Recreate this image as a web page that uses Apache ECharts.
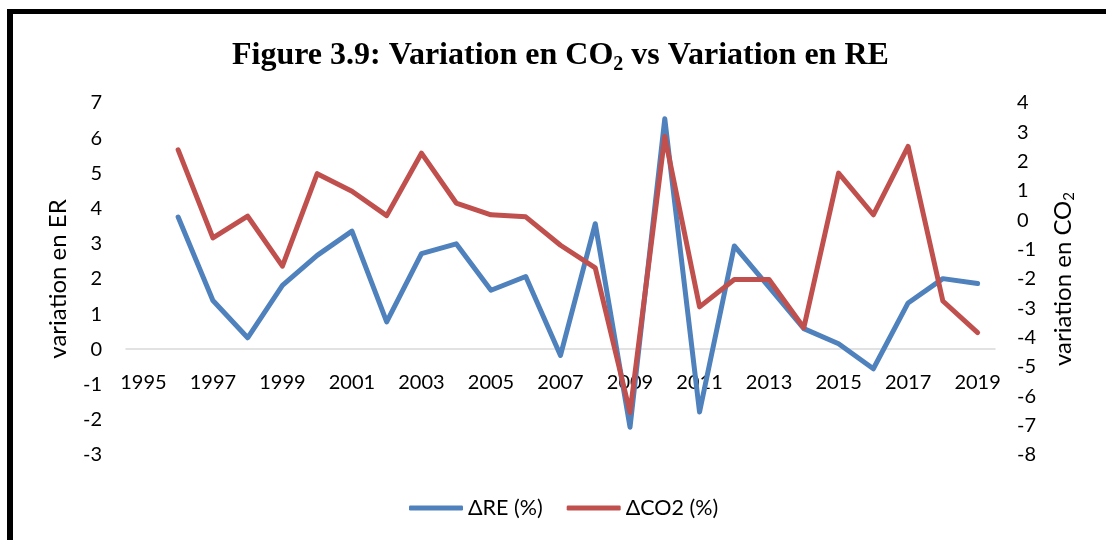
<!DOCTYPE html>
<html>
<head>
<meta charset="utf-8">
<script src="https://cdn.jsdelivr.net/npm/echarts@6/dist/echarts.min.js"></script>
<style>
html,body{margin:0;padding:0;background:#fff;}
#chart{width:1106px;height:540px;}
</style>
</head>
<body>
<div id="chart"></div>
<script>
const years = ['1995','1996','1997','1998','1999','2000','2001','2002','2003','2004','2005','2006','2007','2008','2009','2010','2011','2012','2013','2014','2015','2016','2017','2018','2019'];
const deltaRE = [null, 3.76, 1.39, 0.33, 1.82, 2.67, 3.36, 0.78, 2.72, 3.00, 1.68, 2.07, -0.17, 3.57, -2.21, 6.55, -1.78, 2.94, 1.77, 0.59, 0.16, -0.55, 1.32, 2.01, 1.87];
const deltaCO2 = [null, 2.40, -0.60, 0.14, -1.56, 1.59, 0.99, 0.16, 2.29, 0.59, 0.19, 0.12, -0.85, -1.62, -6.55, 2.86, -2.95, -2.02, -2.02, -3.66, 1.61, 0.19, 2.52, -2.75, -3.83];
const seriesNames = ['\u0394RE (%)', '\u0394CO2 (%)'];

const chart = echarts.init(document.getElementById('chart'));
const font = 'Lato';
chart.setOption({
  backgroundColor: '#fff',
  animation: false,
  graphic: [
    { type: 'rect', shape: { x: 7, y: 9, width: 1110, height: 5 }, style: { fill: '#000' } },
    { type: 'rect', shape: { x: 7, y: 9, width: 6, height: 540 }, style: { fill: '#000' } }
  ],
  title: {
    text: '{a|Figure 3.9: Variation en CO}{s|2}{a| vs Variation en RE}',
    left: 232,
    top: 37,
    padding: 0,
    textStyle: {
      rich: {
        a: { fontFamily: 'Liberation Serif', fontSize: 32, fontWeight: 'bold', color: '#000', lineHeight: 38 },
        s: { fontFamily: 'Liberation Serif', fontSize: 20, fontWeight: 'bold', color: '#000', lineHeight: 12, verticalAlign: 'bottom' }
      }
    }
  },
  legend: {
    data: seriesNames,
    bottom: 16,
    left: 404,
    icon: 'roundRect',
    itemWidth: 54,
    itemHeight: 5,
    itemGap: 24,
    textStyle: { fontFamily: font, fontSize: 21.5, color: '#000' }
  },
  grid: { left: 126, right: 111, top: 103, bottom: 85, containLabel: false },
  xAxis: {
    type: 'category',
    data: years,
    boundaryGap: true,
    offset: -106,
    axisLine: { onZero: false, lineStyle: { color: '#d9d9d9', width: 1.5 } },
    axisTick: { show: false },
    axisLabel: { interval: 1, fontFamily: font, fontSize: 20, color: '#000', margin: 24 },
    splitLine: { show: false }
  },
  yAxis: [
    {
      type: 'value', min: -3, max: 7, interval: 1,
      name: 'variation en ER', nameLocation: 'middle', nameRotate: 90, nameGap: 56,
      nameTextStyle: { fontFamily: font, fontSize: 24, color: '#000' },
      axisLine: { show: false }, axisTick: { show: false }, splitLine: { show: false },
      axisLabel: { fontFamily: font, fontSize: 20, color: '#000', margin: 24 }
    },
    {
      type: 'value', min: -8, max: 4, interval: 1, position: 'right',
      name: '{a|variation en CO}{s|2}', nameLocation: 'middle', nameRotate: 90, nameGap: 54,
      nameTextStyle: {
        rich: {
          a: { fontFamily: font, fontSize: 24, color: '#000', lineHeight: 28 },
          s: { fontFamily: font, fontSize: 15, color: '#000', lineHeight: 10, verticalAlign: 'bottom' }
        }
      },
      axisLine: { show: false }, axisTick: { show: false }, splitLine: { show: false },
      axisLabel: { fontFamily: font, fontSize: 20, color: '#000', margin: 22 }
    }
  ],
  series: [
    {
      name: seriesNames[0], type: 'line', yAxisIndex: 0, data: deltaRE,
      symbol: 'none', color: '#4F81BD',
      lineStyle: { width: 5, color: '#4F81BD', cap: 'round', join: 'round' }
    },
    {
      name: seriesNames[1], type: 'line', yAxisIndex: 1, data: deltaCO2,
      symbol: 'none', color: '#C0504D',
      lineStyle: { width: 5, color: '#C0504D', cap: 'round', join: 'round' }
    }
  ]
});
</script>
</body>
</html>
